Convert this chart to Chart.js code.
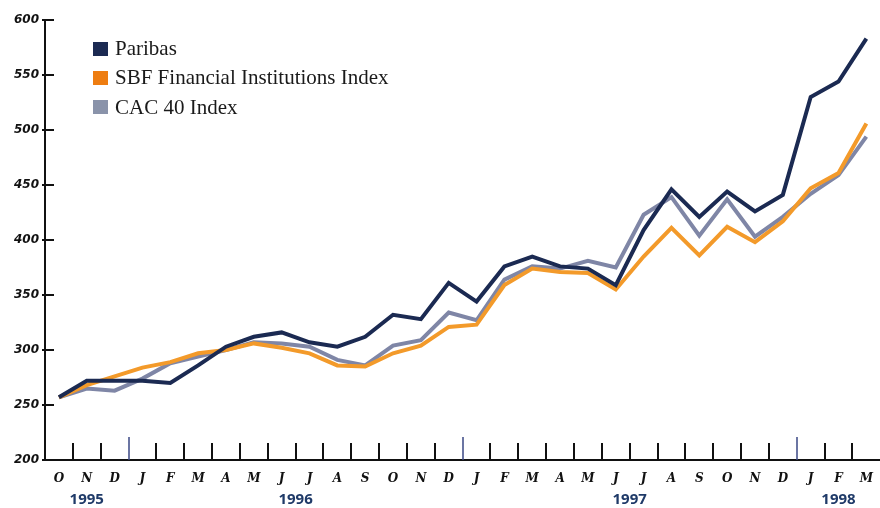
<!DOCTYPE html>
<html>
<head>
<meta charset="utf-8">
<script src="https://cdn.jsdelivr.net/npm/chart.js@4.4.1/dist/chart.umd.min.js"></script>
<style>
  html, body { margin: 0; padding: 0; background: #fff; overflow: hidden; }
  #wrap { position: relative; width: 885px; height: 508px; }
  #legend { position: absolute; left: 93px; top: 34px; font-family: 'Liberation Serif', serif; font-size: 21px; color: #1a1a1a; }
  #legend .row { display: flex; align-items: center; height: 29.3px; white-space: nowrap; }
  #legend .sw { width: 15px; height: 14px; margin-right: 7px; }
</style>
</head>
<body>
<div id="wrap">
  <canvas id="perfChart"></canvas>
  <div id="legend"></div>
</div>
<script>
// ===== DATA =====
const months = ['O','N','D','J','F','M','A','M','J','J','A','S','O','N','D',
                'J','F','M','A','M','J','J','A','S','O','N','D','J','F','M'];
const yearLabels = ['1995', '1996', '1997', '1998'];
const yearSpans  = [3, 12, 12, 3];   // months shown per year

const seriesNames = ['Paribas', 'SBF Financial Institutions Index', 'CAC 40 Index'];
const paribas = [257, 272, 272, 272, 270, 286, 303, 312, 316, 307, 303, 312, 332, 328, 361,
                 344, 376, 385, 376, 374, 359, 409, 446, 421, 444, 426, 441, 530, 544, 583];
const sbf     = [257, 268, 276, 284, 289, 297, 300, 306, 302, 297, 286, 285, 297, 304, 321,
                 323, 359, 374, 371, 370, 355, 385, 411, 386, 412, 398, 417, 447, 461, 506];
const cac     = [257, 265, 263, 274, 288, 294, 300, 307, 306, 303, 291, 286, 304, 309, 334,
                 327, 364, 376, 374, 381, 375, 423, 439, 404, 437, 403, 421, 442, 459, 494];

const yMin = 200, yMax = 600, yStep = 50;

const COLORS = {
  paribas: '#1b2a52',
  sbf:     '#f39a2a',
  cac:     '#7f86a6',
};
const SWATCH = ['#1b2a52', '#ee7d11', '#8a93aa'];

// year label positions = middle of each year's months
const yearCenters = [];
const yearEdges = [];
let start = 0;
yearSpans.forEach(n => { yearCenters.push(start + n / 2); start += n; yearEdges.push(start); });

// ===== LEGEND =====
document.getElementById('legend').innerHTML = seriesNames.map((name, i) =>
  `<div class="row"><span class="sw" style="background:${SWATCH[i]}"></span>${name}</div>`
).join('');

// ===== TICK MARKS (drawn inward / across the axes) =====
const tickMarks = {
  id: 'tickMarks',
  afterDraw(chart) {
    const { ctx, chartArea, scales } = chart;
    const x = scales.x, y = scales.y;
    ctx.save();
    for (let k = 1; k < months.length; k++) {
      const px = Math.round((x.getPixelForValue(k - 1) + x.getPixelForValue(k)) / 2);
      const isYear = yearEdges.includes(k);
      ctx.beginPath();
      ctx.strokeStyle = isYear ? '#3a4785' : '#111';
      ctx.lineWidth = isYear ? 1.5 : 2;
      ctx.moveTo(px, chartArea.bottom);
      ctx.lineTo(px, chartArea.bottom - (isYear ? 23 : 17));
      ctx.stroke();
    }
    y.ticks.forEach(t => {
      const py = Math.round(y.getPixelForValue(t.value));
      ctx.beginPath();
      ctx.strokeStyle = '#111';
      ctx.lineWidth = 2;
      ctx.moveTo(chartArea.left - 3, py);
      ctx.lineTo(chartArea.left + 9, py);
      ctx.stroke();
    });
    ctx.restore();
  }
};

const line = (label, data, color) => ({
  label, data,
  borderColor: color,
  backgroundColor: color,
  borderWidth: 4,
  pointRadius: 0,
  tension: 0,
  fill: false,
});

new Chart(document.getElementById('perfChart'), {
  type: 'line',
  data: {
    labels: months,
    datasets: [
      line(seriesNames[0], paribas, COLORS.paribas),
      line(seriesNames[1], sbf, COLORS.sbf),
      line(seriesNames[2], cac, COLORS.cac),
    ]
  },
  options: {
    responsive: true,
    maintainAspectRatio: false,
    animation: false,
    layout: { padding: { top: 20, left: 0, right: 0, bottom: 0 } },
    plugins: { legend: { display: false }, tooltip: { enabled: false } },
    scales: {
      x: {
        type: 'category',
        offset: true,
        grid: { display: false, drawTicks: false, offset: true },
        border: { display: true, color: '#111', width: 2 },
        ticks: {
          autoSkip: false, maxRotation: 0, padding: 12, color: '#111',
          font: { family: 'DejaVu Serif', style: 'italic', weight: 'bold', size: 12 }
        },
        afterFit: s => { s.height = 29; }
      },
      x2: {
        type: 'linear',
        position: 'bottom',
        weight: 1,
        min: 0,
        max: months.length,
        grid: { display: false, drawTicks: false },
        border: { display: false },
        afterBuildTicks: s => { s.ticks = yearCenters.map(v => ({ value: v })); },
        ticks: {
          autoSkip: false, maxRotation: 0, padding: 2, color: '#1f3a68',
          font: { family: 'Open Sans', weight: 'bold', size: 15 },
          callback: v => yearLabels[yearCenters.indexOf(v)]
        },
        afterFit: s => { s.height = 19; }
      },
      y: {
        min: yMin,
        max: yMax,
        grid: { display: false, drawTicks: false },
        border: { display: true, color: '#111', width: 2 },
        ticks: {
          stepSize: yStep, padding: 6, color: '#111',
          font: { family: 'DejaVu Sans', style: 'italic', weight: 'bold', size: 12 }
        },
        afterFit: s => { s.width = 45; }
      }
    }
  },
  plugins: [tickMarks]
});
</script>
</body>
</html>
